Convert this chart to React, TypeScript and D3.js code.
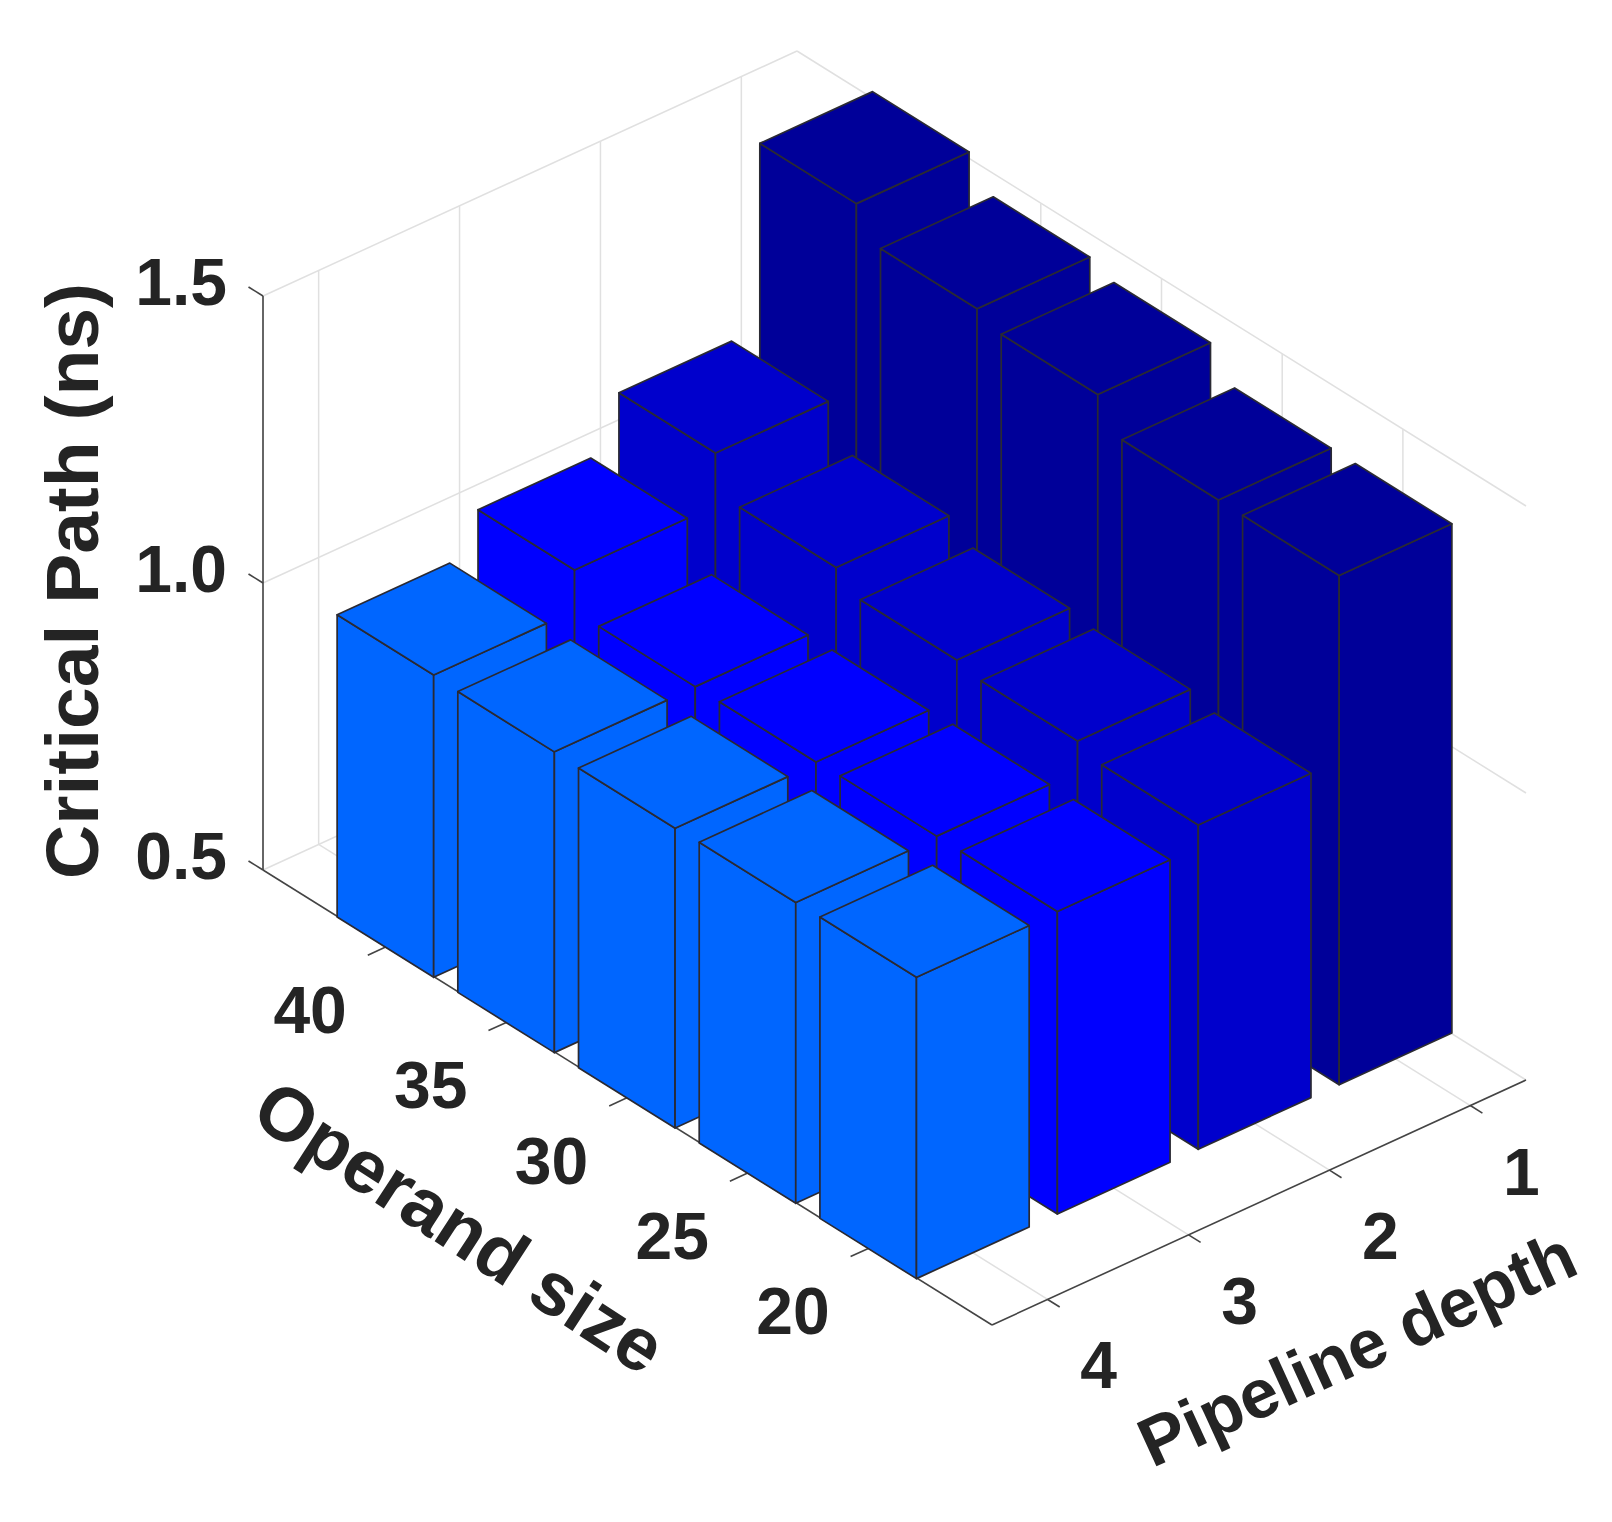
import React from "react";
import * as d3 from "d3";

const operandLabels = ["40", "35", "30", "25", "20"];
const pipelineLabels = ["4", "3", "2", "1"];
const zTicks = [0.5, 1.0, 1.5];

const pipeline4 = [1.0265, 1.024, 1.022, 1.024, 1.025];
const pipeline3 = [1.097, 1.025, 1.025, 1.027, 1.027];
const pipeline2 = [1.188, 1.12, 1.09, 1.08, 1.065];
const pipeline1 = [1.51, 1.458, 1.44, 1.3875, 1.387];
const rows = [pipeline4, pipeline3, pipeline2, pipeline1];
const rowColors = ["#0066ff", "#0000ff", "#0000cc", "#000099"];

const W = 1612;
const H = 1522;
const FONT = "'Liberation Sans', Arial, sans-serif";
const INK = "#242424";
const GRID = "#e0e0e0";

// oblique axes: left floor corner plus two floor edge vectors and a vertical scale
const origin = { x: 263, y: 870 };
const uEdge = { x: 729, y: 455 };
const vEdge = { x: 534, y: -245 };
const U0 = -0.02, U1 = 6.02, V0 = -0.395, V1 = 3.395, Z0 = 0.5, Z1 = 1.5;
const uScale = d3.scaleLinear().domain([U0, U1]).range([0, 1]);
const vScale = d3.scaleLinear().domain([V0, V1]).range([0, 1]);
const zScale = d3.scaleLinear().domain([Z0, Z1]).range([0, -574]);

const project = (u: number, v: number, z: number): [number, number] => {
  const a = uScale(u);
  const b = vScale(v);
  return [origin.x + a * uEdge.x + b * vEdge.x, origin.y + a * uEdge.y + b * vEdge.y + zScale(z)];
};

const line = d3.line();
const poly = (pts: [number, number][]) => line(pts) + "Z";
const seg = (a: [number, number], b: [number, number]) => line([a, b]) as string;

const BAR = 0.4;
const uTickPos = operandLabels.map((_, i) => i + 1);
const vTickPos = pipelineLabels.map((_, i) => i);

export default function App() {
  const grid: string[] = [];
  // back walls and floor
  zTicks.forEach((z) => {
    grid.push(seg(project(U0, V1, z), project(U0, V0, z)));
    grid.push(seg(project(U0, V1, z), project(U1, V1, z)));
  });
  vTickPos.forEach((v) => {
    grid.push(seg(project(U0, v, Z0), project(U0, v, Z1)));
    grid.push(seg(project(U0, v, Z0), project(U1, v, Z0)));
  });
  uTickPos.forEach((u) => {
    grid.push(seg(project(u, V1, Z0), project(u, V1, Z1)));
    grid.push(seg(project(u, V0, Z0), project(u, V1, Z0)));
  });

  const bars: React.ReactNode[] = [];
  for (let r = rows.length - 1; r >= 0; r--) {
    rows[r].forEach((val, i) => {
      const u = i + 1;
      const v = r;
      const fill = rowColors[r];
      const a = project(u - BAR, v - BAR, val);
      const b = project(u + BAR, v - BAR, val);
      const c = project(u + BAR, v + BAR, val);
      const d = project(u - BAR, v + BAR, val);
      const a0 = project(u - BAR, v - BAR, Z0);
      const b0 = project(u + BAR, v - BAR, Z0);
      const c0 = project(u + BAR, v + BAR, Z0);
      bars.push(
        <g key={`${r}-${i}`} fill={fill} stroke="#2a2a33" strokeWidth={1.7} strokeLinejoin="round">
          <path d={poly([a, b, b0, a0])} />
          <path d={poly([b, c, c0, b0])} />
          <path d={poly([a, b, c, d])} />
        </g>
      );
    });
  }

  const tickLabel = { fontFamily: FONT, fontWeight: 700, fontSize: 66, fill: INK } as const;
  const axisTitle = { fontFamily: FONT, fontWeight: 700, fill: INK } as const;

  return (
    <svg width={W} height={H} viewBox={`0 0 ${W} ${H}`} style={{ position: "absolute", left: 0, top: 0, display: "block" }}>
      <rect width={W} height={H} fill="#fff" />
      <g fill="none" stroke={GRID} strokeWidth={1.5}>
        {grid.map((d, i) => <path key={i} d={d} />)}
      </g>

      {/* axis lines and ticks */}
      <g fill="none" stroke="#444" strokeWidth={1.6}>
        <path d={seg(project(U0, V0, Z0), project(U0, V0, Z1))} stroke="#666" strokeWidth={2} />
        <path d={seg(project(U0, V0, Z0), project(U1, V0, Z0))} />
        <path d={seg(project(U1, V0, Z0), project(U1, V1, Z0))} />
        {zTicks.map((z) => <path key={z} d={seg(project(U0, V0, z), project(-0.14, V0, z))} />)}
        {uTickPos.map((u) => <path key={u} d={seg(project(u, V0, Z0), project(u, V0 - 0.13, Z0))} />)}
        {vTickPos.map((v) => <path key={v} d={seg(project(U1, v, Z0), project(U1 + 0.1, v, Z0))} />)}
      </g>

      {bars}

      {zTicks.map((z) => (
        <text key={z} x={227} y={project(U0, V0, z)[1] - 14} dominantBaseline="central" textAnchor="end" {...tickLabel}>
          {z.toFixed(1)}
        </text>
      ))}
      {operandLabels.map((t, i) => {
        const [x, y] = project(uTickPos[i], V0, Z0);
        return (
          <text key={t} x={x - 76} y={y + 63} dominantBaseline="central" textAnchor="middle" {...tickLabel}>
            {t}
          </text>
        );
      })}
      {pipelineLabels.map((t, i) => {
        const [x, y] = project(U1, vTickPos[i], Z0);
        return (
          <text key={t} x={x + 51} y={y + 66} dominantBaseline="central" textAnchor="middle" {...tickLabel}>
            {t}
          </text>
        );
      })}

      <text transform="translate(98,581) rotate(-90)" textAnchor="middle" fontSize={75} {...axisTitle}>
        Critical Path (ns)
      </text>
      <text transform="translate(460,1227) rotate(33)" textAnchor="middle" dominantBaseline="central" fontSize={75} {...axisTitle}>
        Operand size
      </text>
      <text transform="translate(1357,1349) rotate(-24.5)" textAnchor="middle" dominantBaseline="central" fontSize={69} {...axisTitle}>
        Pipeline depth
      </text>
    </svg>
  );
}
